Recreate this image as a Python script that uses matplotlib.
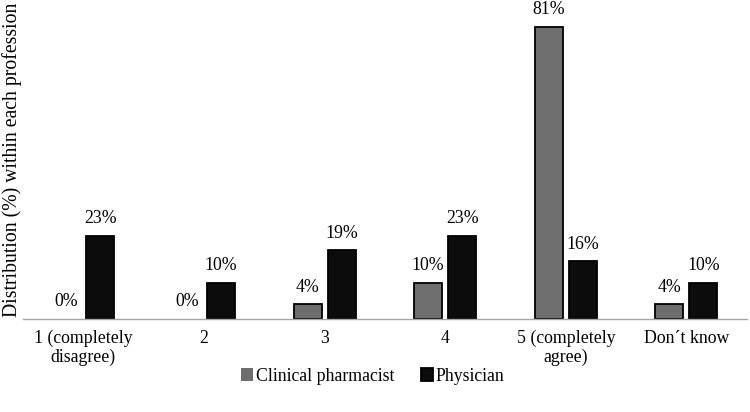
import matplotlib.pyplot as plt
import numpy as np

categories = ["1 (completely\ndisagree)", "2", "3", "4", "5 (completely\nagree)", "Don\u00b4t know"]
pharmacist = [0, 0, 4, 10, 81, 4]
physician = [23, 10, 19, 23, 16, 10]

PHARM_COLOR = "#6e6e6e"
PHYS_COLOR = "#0c0c0c"
FS = 12.75

plt.rcParams.update({
    "font.family": "Liberation Serif",
    "font.size": FS,
})

fig = plt.figure(figsize=(7.5, 4.12), dpi=100)
ax = fig.add_axes([0.0307, 0.226, 0.965, 0.774])

x = np.arange(len(categories))
w = 0.232
off = 0.141
b1 = ax.bar(x - off, pharmacist, w, color=PHARM_COLOR, edgecolor="black",
            linewidth=[1.3 if v > 0 else 0 for v in pharmacist], label="Clinical pharmacist")
b2 = ax.bar(x + off, physician, w, color=PHYS_COLOR, edgecolor="black",
            linewidth=[1.3 if v > 0 else 0 for v in physician], label="Physician")

for bars, vals in ((b1, pharmacist), (b2, physician)):
    for bar, v in zip(bars, vals):
        ax.text(bar.get_x() + bar.get_width() / 2, v + 2.4, f"{v}%",
                ha="center", va="bottom", fontsize=FS)

ax.set_xlim(-0.5, len(categories) - 0.5)
ax.set_ylim(0, 88.5)
ax.set_xticks(x)
ax.set_xticklabels(categories, fontsize=FS, linespacing=1.1)
ax.tick_params(axis="x", length=0, pad=8)
ax.set_yticks([])
for side in ("top", "right", "left"):
    ax.spines[side].set_visible(False)
ax.spines["bottom"].set_color("#a6a6a6")
ax.spines["bottom"].set_linewidth(1.0)

ax.set_ylabel("Distribution (%) within each profession", fontsize=14.2, labelpad=1)

fig.legend(handles=[b1, b2], loc="center", bbox_to_anchor=(0.497, 0.087), ncol=2,
           frameon=False, fontsize=FS, handlelength=0.68, handleheight=0.68,
           handletextpad=0.15, columnspacing=1.5)

fig.savefig("out.png", dpi=100)
